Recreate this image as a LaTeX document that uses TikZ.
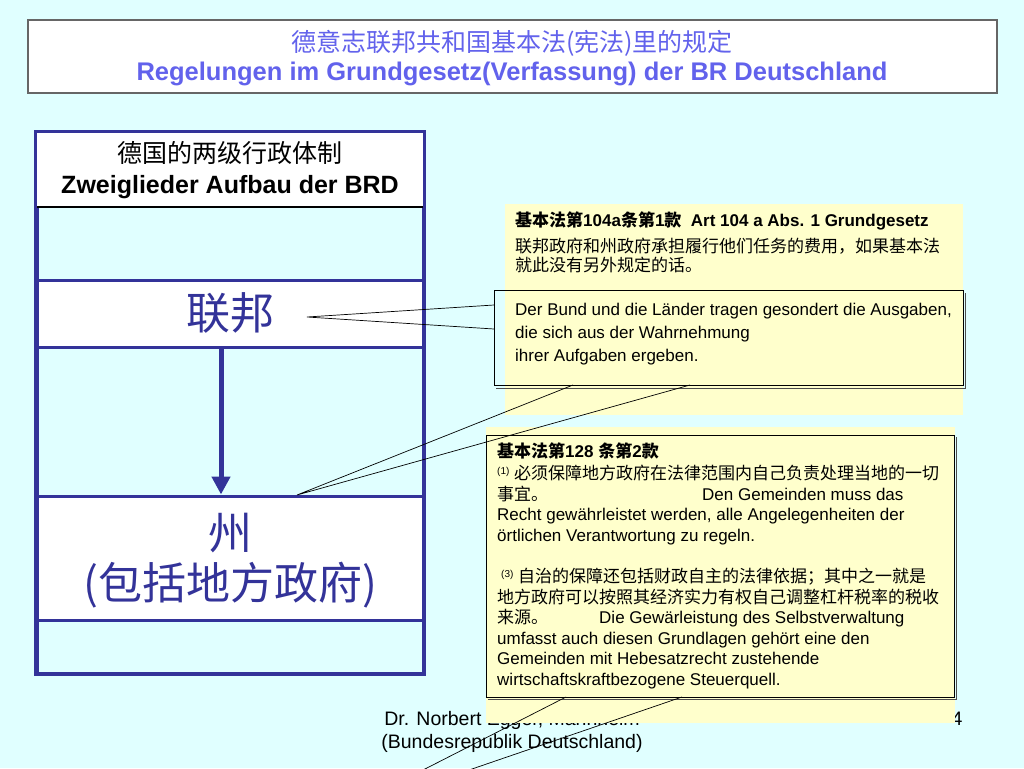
\documentclass[tikz,border=0pt]{standalone}
\usepackage{fontspec}
\setmainfont{Liberation Sans}
\newfontfamily\cjk{Noto Sans CJK SC}
\usetikzlibrary{arrows.meta}
\definecolor{bgc}{HTML}{E0FFFF}
\definecolor{titleblue}{HTML}{6262EC}
\definecolor{navy}{HTML}{333399}
\definecolor{notey}{HTML}{FFFFCC}
\newcommand\fs[1]{\fontsize{#1}{#1}\selectfont}
\begin{document}
\begin{tikzpicture}[x=1pt,y=-1pt,
  colbox/.style={draw=navy, line width=3pt, fill=white, minimum width=386pt, inner sep=0pt, outer sep=0pt},
  notebg/.style={fill=notey, draw=none, inner sep=0pt, outer sep=0pt},
  framebox/.style={draw=black, line width=0.9pt, inner sep=0pt, outer sep=0pt},
  ln/.style={anchor=base west, inner sep=0pt, font=\fs{17}},
  ptr/.style={black, line width=0.7pt},
  sup/.style={}]
\fill[bgc] (0,0) rectangle (1024,768);
\useasboundingbox (0,0) rectangle (1024,768);

% title
\node[draw=gray!80!black, line width=1.5pt, fill=white, minimum width=969pt, minimum height=73pt, inner sep=0pt] (title) at (512.5,56.5) {};
\node[text=titleblue, font=\cjk\fs{25}, anchor=base, inner sep=0pt] (tzh) at (512,52) {德意志联邦共和国基本法(宪法)里的规定};
\node[text=titleblue, font=\bfseries\fs{25.5}, anchor=base, inner sep=0pt] (tde) at (512,81) {Regelungen im Grundgesetz(Verfassung) der BR Deutschland};

% left column
\node[draw=navy, fill=bgc, line width=3pt, minimum width=386pt, minimum height=540pt, inner sep=0pt] (col) at (230,403) {};
\node[fill=white, minimum width=386pt, minimum height=74pt, inner sep=0pt, outer sep=0pt] (head) at (230,170) {};
\draw[black, line width=1.3pt] (head.south west) -- (head.south east);
\node[font=\cjk\fs{25}, anchor=base, inner sep=0pt] (hzh) at (230,162) {德国的两级行政体制};
\node[font=\bfseries\fs{25}, anchor=base, inner sep=0pt] (hde) at (230,193) {Zweiglieder Aufbau der BRD};
\node[colbox, minimum height=67pt] (bund) at (230,313.5) {};
\node[colbox, minimum height=124pt] (land) at (230,558) {};
\draw[navy, line width=3pt] (col.south west) rectangle (col.north east);
\node[font=\cjk\fs{44}, text=navy, anchor=base, inner sep=0pt] (tbund) at (230,329) {联邦};
\node[font=\cjk\fs{44}, text=navy, anchor=base, inner sep=0pt] (tland1) at (230,549) {州};
\node[font=\cjk\fs{44}, text=navy, anchor=base, inner sep=0pt] (tland2) at (230,599) {(包括地方政府)};
\coordinate (ax) at (221,0);
\draw[navy, line width=5pt, -{Triangle[length=18pt,width=18pt]}] (bund.south -| ax) -- ([yshift=1.5pt]land.north -| ax);

% footer
\node[font=\fs{19.5}, anchor=base, inner sep=0pt] (f1) at (512,725) {Dr. Norbert Egger, Mannheim};
\node[font=\fs{19.5}, anchor=base, inner sep=0pt] (f2) at (512,748) {(Bundesrepublik Deutschland)};
\node[font=\fs{19.5}, anchor=base, inner sep=0pt] (pg) at (957,725) {4};

% callout 1
\node[notebg, minimum width=458pt, minimum height=211pt] (n1) at (734,309.5) {};
\node[ln, font=\bfseries\fs{17}] (c1a) at (515,226) {{\cjk 基本法第}104a{\cjk 条第}1{\cjk 款}\ \ Art 104 a Abs. 1 Grundgesetz};
\node[ln] (c1b) at (515,252) {\cjk 联邦政府和州政府承担履行他们任务的费用，如果基本法};
\node[ln] (c1c) at (515,271) {\cjk 就此没有另外规定的话。};
\draw[gray!60!black, line width=0.9pt] (496,388.5) -- (965.5,388.5) -- (965.5,293);
\node[framebox, minimum width=469pt, minimum height=95pt] (b1) at (728.5,337.5) {};
\node[ln] (d1) at (515,315) {Der Bund und die Länder tragen gesondert die Ausgaben,};
\node[ln] (d2) at (515,338) {die sich aus der Wahrnehmung};
\node[ln] (d3) at (515,361) {ihrer Aufgaben ergeben.};

% callout 2
\node[notebg, minimum width=469pt, minimum height=296pt] (n2) at (720.5,575) {};
\draw[gray!60!black, line width=1pt] (488,699) -- (956,699) -- (956,437);
\node[framebox, minimum width=468pt, minimum height=262pt] (b2) at (720,566) {};
\node[ln, font=\bfseries\fs{17}] (e1) at (497,457) {{\cjk 基本法第}128 {\cjk 条第}2{\cjk 款}};
\node[ln] (e2) at (497,479) {\raisebox{5pt}{\fs{10}(1)} {\cjk 必须保障地方政府在法律范围内自己负责处理当地的一切}};
\node[ln] (e3) at (497,500) {\makebox[205pt][l]{\cjk 事宜。}Den Gemeinden muss das};
\node[ln] (e4) at (497,520) {Recht gewährleistet werden, alle Angelegenheiten der};
\node[ln] (e5) at (497,541) {örtlichen Verantwortung zu regeln.};
\node[ln] (e6) at (497,582) {\hspace{4pt}\raisebox{5pt}{\fs{10}(3)} {\cjk 自治的保障还包括财政自主的法律依据；其中之一就是}};
\node[ln] (e7) at (497,603) {\cjk 地方政府可以按照其经济实力有权自己调整杠杆税率的税收};
\node[ln] (e8) at (497,623) {\makebox[102pt][l]{\cjk 来源。}Die Gewärleistung des Selbstverwaltung};
\node[ln] (e9) at (497,644) {umfasst auch diesen Grundlagen gehört eine den};
\node[ln] (e10) at (497,664) {Gemeinden mit Hebesatzrecht zustehende};
\node[ln] (e11) at (497,685) {wirtschaftskraftbezogene Steuerquell.};

% pointers
\coordinate (p1) at (307,317);
\coordinate (p2) at (297,495);
\coordinate (p3) at (329,818);
\draw[ptr] ([yshift=32.5pt]b1.west) -- (p1) -- ([yshift=8.5pt]b1.west);
\draw[ptr] ([xshift=79pt]b1.south west) -- (p2) -- ([xshift=196pt]b1.south west);
\begin{scope}
\clip (0,0) rectangle (1024,768);
\draw[ptr] ([xshift=80pt]b2.south west) -- (p3) -- ([xshift=196pt]b2.south west);
\end{scope}
\end{tikzpicture}
\end{document}
